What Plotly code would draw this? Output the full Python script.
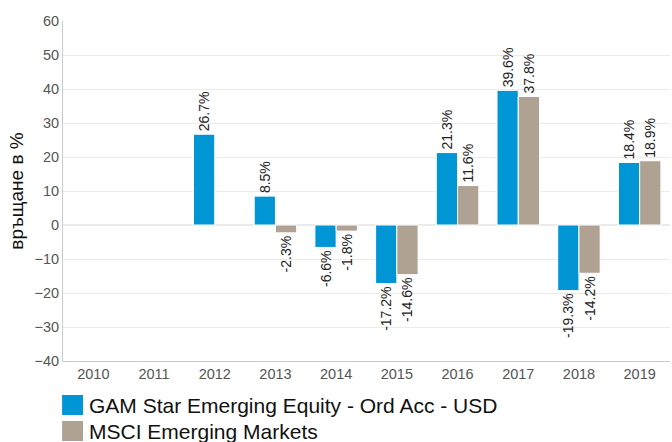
import plotly.graph_objects as go

years = ["2010", "2011", "2012", "2013", "2014", "2015", "2016", "2017", "2018", "2019"]
fund = [None, None, 26.7, 8.5, -6.6, -17.2, 21.3, 39.6, -19.3, 18.4]
index = [None, None, None, -2.3, -1.8, -14.6, 11.6, 37.8, -14.2, 18.9]
fund_name = "GAM Star Emerging Equity - Ord Acc - USD"
index_name = "MSCI Emerging Markets"
y_ticks = [-40, -30, -20, -10, 0, 10, 20, 30, 40, 50, 60]
colors = ["#0096d6", "#b0a293"]
FONT = "Liberation Sans, Arial, sans-serif"

def labels(vals):
    return [("" if v is None else f"{v:.1f}%") for v in vals]

fig = go.Figure()
for name, vals, col in [(fund_name, fund, colors[0]), (index_name, index, colors[1])]:
    fig.add_trace(go.Bar(x=years, y=vals, name=name,
                         marker=dict(color=col, line=dict(color="white", width=1)),
                         text=labels(vals), textposition="outside", textangle=-90,
                         cliponaxis=False, constraintext="none",
                         textfont=dict(size=14, color="#222", family=FONT)))

# legend drawn as swatches + text below the plot
plot_top, plot_bot = 21, 361
def py(pix):
    return (plot_bot - pix) / (plot_bot - plot_top)

shapes = []
annotations = []
for i, (name, col) in enumerate([(fund_name, colors[0]), (index_name, colors[1])]):
    top = 395 + i * 26
    shapes.append(dict(type="rect", xref="paper", yref="paper",
                       x0=-0.0015, x1=0.033, y0=py(top), y1=py(top + 20),
                       fillcolor=col, line=dict(width=0)))
    annotations.append(dict(xref="paper", yref="paper", x=0.04, y=py(top + 10),
                            xanchor="left", yanchor="middle", showarrow=False,
                            text=name, font=dict(size=21, color="#111", family=FONT)))

fig.update_layout(
    width=672, height=442,
    margin=dict(l=63, r=2, t=21, b=81),
    paper_bgcolor="white", plot_bgcolor="white",
    barmode="group", bargap=0.3, bargroupgap=0,
    font=dict(family=FONT, color="#555"),
    showlegend=False,
    shapes=shapes, annotations=annotations,
    xaxis=dict(type="category", showline=True, linecolor="#ccc", linewidth=1, ticks="",
               tickfont=dict(size=14.5, color="#555"), showgrid=False, automargin=False),
    yaxis=dict(range=[-40, 60], tickvals=y_ticks, showgrid=True, gridcolor="#ebebeb",
               showline=True, linecolor="#ccc", linewidth=1, zeroline=True, zerolinecolor="#ebebeb",
               tickfont=dict(size=14.5, color="#555"), automargin=False,
               title=dict(text="връщане в %", font=dict(size=19, color="#111"), standoff=5)),
)
fig.write_html("out.html", config={"displayModeBar": False},
               post_script="document.body.style.margin='0';document.body.style.overflow='hidden';")
